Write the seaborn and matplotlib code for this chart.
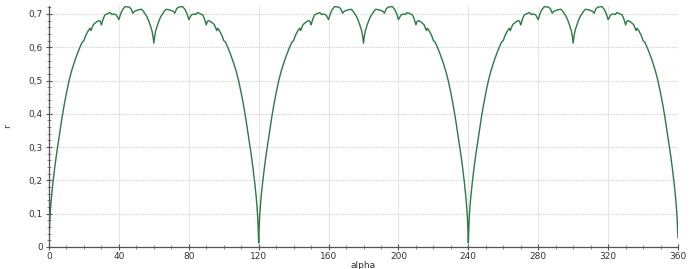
import matplotlib
matplotlib.use("Agg")
import matplotlib.pyplot as plt
import matplotlib.ticker as mticker
import numpy as np
import pandas as pd
import seaborn as sns

# One period (0..120 deg) of r(alpha)
period_alpha = [0, 0.3, 0.6, 1.0, 1.5, 2.3, 3.2, 4.2, 5.2, 6.3, 7.5, 8.8, 10.1, 11.5, 13, 14.5, 16, 17.7,
                19, 20, 21, 22.5, 23.5, 24, 25.4, 27, 28.5, 29.3, 30, 31, 32, 34, 35,
                36, 37, 38.5, 40, 41, 42, 43.5, 45, 46, 47, 48, 49, 51, 53, 54, 55,
                56, 57, 58, 59, 59.6, 60,
                60.4, 61, 62, 63, 64, 65, 66, 67, 69, 71, 72, 73, 74, 75, 76.5, 78,
                79, 80, 81.5, 83, 84, 85, 86, 88, 89, 90, 90.7, 91.5, 93, 94.6, 96,
                96.5, 97.5, 99, 100, 101, 102.3, 104, 105.5, 107, 108.5, 109.9, 111.2,
                112.5, 113.7, 114.8, 115.8, 116.8, 117.7, 118.5, 119.0, 119.4, 119.7, 120]
period_r = [0.015, 0.06, 0.095, 0.125, 0.155, 0.195, 0.235, 0.275, 0.31, 0.348, 0.39, 0.43, 0.465, 0.50,
            0.53, 0.555, 0.577, 0.60,
            0.615, 0.620, 0.635, 0.650, 0.657, 0.650, 0.668, 0.675, 0.680, 0.678, 0.667, 0.685, 0.697, 0.702, 0.704,
            0.698, 0.700, 0.697, 0.683, 0.700, 0.712, 0.722, 0.721, 0.720, 0.715, 0.702, 0.708, 0.712, 0.714, 0.708, 0.700,
            0.692, 0.680, 0.665, 0.648, 0.630, 0.612,
            0.630, 0.648, 0.665, 0.680, 0.692, 0.700, 0.708, 0.714, 0.712, 0.708, 0.702, 0.715, 0.720, 0.721, 0.722, 0.712,
            0.700, 0.683, 0.697, 0.700, 0.698, 0.704, 0.702, 0.697, 0.685, 0.667, 0.678, 0.680, 0.675, 0.668, 0.650,
            0.657, 0.650, 0.635, 0.620, 0.615, 0.60, 0.577, 0.555, 0.53, 0.50, 0.465, 0.43,
            0.39, 0.348, 0.31, 0.275, 0.235, 0.195, 0.155, 0.125, 0.095, 0.06, 0.012]
period_starts = [0, 120, 240]
end_r = 0.027  # value at alpha = 360

x_ticks = [0, 40, 80, 120, 160, 200, 240, 280, 320, 360]
y_ticks = [0, 0.1, 0.2, 0.3, 0.4, 0.5, 0.6, 0.7]

alpha = []
r = []
for k, s in enumerate(period_starts):
    pa = period_alpha if k == 0 else period_alpha[1:]
    pr = period_r if k == 0 else period_r[1:]
    alpha += [s + a for a in pa]
    r += pr
r[-1] = end_r

df = pd.DataFrame({"alpha": alpha, "r": r})

sns.set_style("white")
plt.rcParams["font.family"] = ["DejaVu Sans"]

fig = plt.figure(figsize=(6.93, 2.69), dpi=100)
ax = fig.add_axes([49 / 693, 1 - 247 / 269, (678 - 49) / 693, (247 - 6) / 269])

sns.lineplot(data=df, x="alpha", y="r", ax=ax, color="#2b7a45", linewidth=1.0,
             sort=False, estimator=None)

ax.set_xlim(0, 360)
ax.set_ylim(0, (247 - 6) / 333)
ax.set_xticks(x_ticks)
ax.set_yticks(y_ticks)
ax.xaxis.set_minor_locator(mticker.MultipleLocator(10))
ax.yaxis.set_minor_locator(mticker.MultipleLocator(0.02))
ax.set_xticklabels([str(v) for v in x_ticks])
ax.set_yticklabels(["0" if v == 0 else ("%.1f" % v).replace(".", ",") for v in y_ticks])

ax.tick_params(axis="both", which="major", direction="inout", length=5, width=0.8,
               color="#555555", labelsize=6.5, labelcolor="#333333", pad=2)
ax.tick_params(axis="x", which="major", pad=1)
ax.tick_params(axis="both", which="minor", direction="inout", length=3, width=0.6,
               color="#777777")
ax.tick_params(axis="x", which="both", bottom=True)
ax.tick_params(axis="y", which="both", left=True)

ax.grid(True, axis="y", which="major", linestyle=(0, (1, 1)), color="#d0d0d0", linewidth=0.8)
ax.grid(True, axis="x", which="major", linestyle="-", color="#e6e6e6", linewidth=0.8)

for side in ["top", "right"]:
    ax.spines[side].set_visible(False)
for side in ["left", "bottom"]:
    ax.spines[side].set_color("#555555")
    ax.spines[side].set_linewidth(0.9)

ax.set_xlabel("alpha", fontsize=6.5, color="#333333", labelpad=0)
ax.set_ylabel("r", fontsize=6.5, color="#333333", labelpad=12)

fig.savefig("out.png", dpi=100)
